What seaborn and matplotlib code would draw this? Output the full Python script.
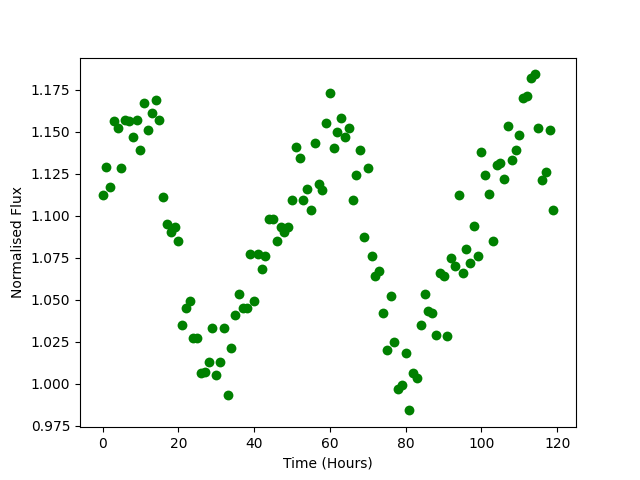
import numpy as np
import pandas as pd
import seaborn as sns
import matplotlib
matplotlib.use('Agg')
import matplotlib.pyplot as plt

# time in hours
time_hours = np.arange(0, 120)

# normalised flux
flux = [
    1.112, 1.129, 1.117, 1.156, 1.152, 1.128, 1.157, 1.156, 1.147, 1.157,
    1.139, 1.167, 1.151, 1.161, 1.169, 1.157, 1.111, 1.095, 1.090, 1.093,
    1.085, 1.035, 1.045, 1.049, 1.027, 1.027, 1.006, 1.007, 1.013, 1.033,
    1.005, 1.013, 1.033, 0.993, 1.021, 1.041, 1.053, 1.045, 1.045, 1.077,
    1.049, 1.077, 1.068, 1.076, 1.098, 1.098, 1.085, 1.093, 1.090, 1.093,
    1.109, 1.141, 1.134, 1.109, 1.116, 1.103, 1.143, 1.119, 1.115, 1.155,
    1.173, 1.140, 1.150, 1.158, 1.147, 1.152, 1.109, 1.124, 1.139, 1.087,
    1.128, 1.076, 1.064, 1.067, 1.042, 1.020, 1.052, 1.025, 0.997, 0.999,
    1.018, 0.984, 1.006, 1.003, 1.035, 1.053, 1.043, 1.042, 1.029, 1.066,
    1.064, 1.028, 1.075, 1.070, 1.112, 1.066, 1.080, 1.072, 1.094, 1.076,
    1.138, 1.124, 1.113, 1.085, 1.130, 1.131, 1.122, 1.153, 1.133, 1.139,
    1.148, 1.170, 1.171, 1.182, 1.184, 1.152, 1.121, 1.126, 1.151, 1.103,
]

df = pd.DataFrame({'time': time_hours, 'flux': flux})

fig, ax = plt.subplots(figsize=(6.4, 4.8), dpi=100)
sns.scatterplot(data=df, x='time', y='flux', ax=ax,
                color='green', s=50, linewidth=0)
ax.set_xlabel('Time (Hours)')
ax.set_ylabel('Normalised Flux')
fig.savefig('out.png', dpi=100)
